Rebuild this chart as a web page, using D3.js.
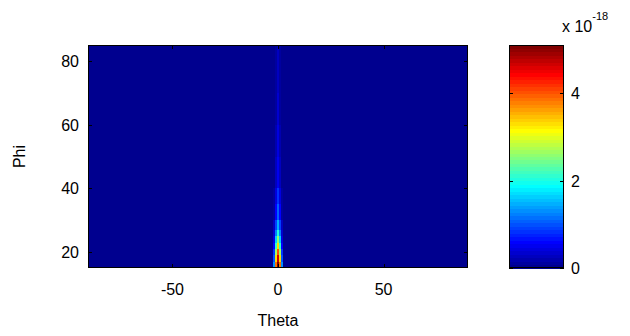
<!DOCTYPE html>
<html>
<head>
<meta charset="utf-8">
<script src="https://cdn.jsdelivr.net/npm/d3@7"></script>
<style>
  body { margin: 0; background: #fff; }
  svg { display: block; }
  text { font-family: 'Liberation Sans', Arial, sans-serif; fill: #000; }
</style>
</head>
<body>
<script>
// column edges (theta, deg) and row edges (phi, deg)
const theta_edges = [-90, -2.5, -1.5, -0.5, 0.5, 1.5, 2.5, 90]
const phi_edges = [15, 17, 19, 21, 23, 25, 27, 30, 35, 40, 50, 60, 70, 85]

// values in units of 1e-18, one row per phi band, one column per theta band
const values = [
  [0, 1.3, 3.9, 5.1, 3.9, 1.3, 0],
  [0, 1.0, 3.3, 4.7, 3.3, 1.0, 0],
  [0, 0.8, 2.7, 4.0, 2.7, 0.8, 0],
  [0, 0.6, 2.1, 3.3, 2.1, 0.6, 0],
  [0, 0.45, 1.6, 2.6, 1.6, 0.45, 0],
  [0, 0.35, 1.2, 2.0, 1.2, 0.35, 0],
  [0, 0.25, 0.9, 1.5, 0.9, 0.25, 0],
  [0, 0.15, 0.6, 1.1, 0.6, 0.15, 0],
  [0, 0.1, 0.4, 0.8, 0.4, 0.1, 0],
  [0, 0, 0.3, 0.55, 0.3, 0, 0],
  [0, 0, 0.2, 0.42, 0.2, 0, 0],
  [0, 0, 0.12, 0.35, 0.12, 0, 0],
  [0, 0, 0.08, 0.28, 0.08, 0, 0],
]

const x_ticks = [-50, 0, 50]
const y_ticks = [20, 40, 60, 80]
const c_ticks = [0, 2, 4]
const c_max = 5.1

// MATLAB jet(64)
function jet64(k) { // k = 1..64
  const u = []
  for (let i = 1; i <= 16; i++) u.push(i / 16)
  for (let i = 0; i < 15; i++) u.push(1)
  for (let i = 16; i >= 1; i--) u.push(i / 16)
  const at = j => (j >= 1 && j <= u.length) ? u[j - 1] : 0
  const g = at(k - 8), r = at(k - 24), b = at(k + 8)
  return d3.rgb(r * 255, g * 255, b * 255).toString()
}
const jet = d3.range(1, 65).map(jet64)
const color = v => jet[Math.max(0, Math.min(63, Math.floor(v / c_max * 64)))]

const W = 630, H = 336
const m = {left: 88, right: 468, top: 45, bottom: 268}
const cb = {left: 509, right: 564}

const svg = d3.select('body').append('svg')
  .attr('width', W).attr('height', H)
  .attr('viewBox', `0 0 ${W} ${H}`)

const x = d3.scaleLinear().domain([-90, 90]).range([m.left, m.right])
const y = d3.scaleLinear().domain([15, 85]).range([m.bottom, m.top])

const cells = []
values.forEach((row, i) => row.forEach((v, j) => {
  cells.push({x0: theta_edges[j], x1: theta_edges[j + 1], y0: phi_edges[i], y1: phi_edges[i + 1], v})
}))

// background plane in the zero colour, then cells on top
svg.append('rect')
  .attr('x', m.left).attr('y', m.top)
  .attr('width', m.right - m.left).attr('height', m.bottom - m.top)
  .attr('fill', color(0))

svg.append('g')
  .attr('shape-rendering', 'crispEdges')
  .selectAll('rect')
  .data(cells.filter(d => d.v > 0))
  .join('rect')
    .attr('x', d => x(d.x0))
    .attr('width', d => x(d.x1) - x(d.x0))
    .attr('y', d => y(d.y1))
    .attr('height', d => y(d.y0) - y(d.y1))
    .attr('fill', d => color(d.v))

// frame + inward ticks
const frame = svg.append('g').attr('stroke', '#000').attr('fill', 'none').attr('stroke-width', 1)
frame.append('rect')
  .attr('x', m.left + 0.5).attr('y', m.top + 0.5)
  .attr('width', m.right - m.left - 1).attr('height', m.bottom - m.top - 1)

const tl = 4
x_ticks.forEach(t => {
  const px = Math.round(x(t)) + 0.5
  frame.append('line').attr('x1', px).attr('x2', px).attr('y1', m.bottom).attr('y2', m.bottom - tl)
  frame.append('line').attr('x1', px).attr('x2', px).attr('y1', m.top).attr('y2', m.top + tl)
})
y_ticks.forEach(t => {
  const py = Math.round(y(t)) + 0.5
  frame.append('line').attr('x1', m.left).attr('x2', m.left + tl).attr('y1', py).attr('y2', py)
  frame.append('line').attr('x1', m.right).attr('x2', m.right - tl).attr('y1', py).attr('y2', py)
})

svg.append('g')
  .selectAll('text')
  .data(x_ticks)
  .join('text')
    .attr('x', d => x(d))
    .attr('y', 295)
    .attr('text-anchor', 'middle')
    .attr('font-size', 16)
    .text(d => d)

svg.append('g')
  .selectAll('text')
  .data(y_ticks)
  .join('text')
    .attr('x', 79)
    .attr('y', d => y(d) + 6)
    .attr('text-anchor', 'end')
    .attr('font-size', 16)
    .text(d => d)

svg.append('text')
  .attr('x', x(0)).attr('y', 326)
  .attr('text-anchor', 'middle').attr('font-size', 16)
  .text('Theta')

svg.append('text')
  .attr('transform', `translate(25, ${(m.top + m.bottom) / 2}) rotate(-90)`)
  .attr('text-anchor', 'middle').attr('font-size', 16)
  .text('Phi')

// colorbar
const cy = d3.scaleLinear().domain([0, c_max]).range([m.bottom, m.top])
const levels = d3.range(64)
svg.append('g')
  .attr('shape-rendering', 'crispEdges')
  .selectAll('rect')
  .data(levels)
  .join('rect')
    .attr('x', cb.left)
    .attr('width', cb.right - cb.left)
    .attr('y', k => cy((k + 1) / 64 * c_max))
    .attr('height', k => cy(k / 64 * c_max) - cy((k + 1) / 64 * c_max) + 0.5)
    .attr('fill', k => jet[k])

const cframe = svg.append('g').attr('stroke', '#000').attr('fill', 'none')
cframe.append('rect')
  .attr('x', cb.left + 0.5).attr('y', m.top + 0.5)
  .attr('width', cb.right - cb.left - 1).attr('height', m.bottom - m.top - 1)
c_ticks.forEach(t => {
  const py = Math.round(cy(t)) + 0.5
  cframe.append('line').attr('x1', cb.left).attr('x2', cb.left + tl).attr('y1', py).attr('y2', py)
  cframe.append('line').attr('x1', cb.right).attr('x2', cb.right - tl).attr('y1', py).attr('y2', py)
})

svg.append('g')
  .selectAll('text')
  .data(c_ticks)
  .join('text')
    .attr('x', cb.right + 7)
    .attr('y', t => cy(t) + 6)
    .attr('font-size', 16)
    .text(t => t)

const exp = svg.append('text').attr('x', 562).attr('y', 32).attr('font-size', 16)
exp.append('tspan').text('x 10')
exp.append('tspan').attr('dy', -12).attr('font-size', 11).text('-18')
</script>
</body>
</html>
